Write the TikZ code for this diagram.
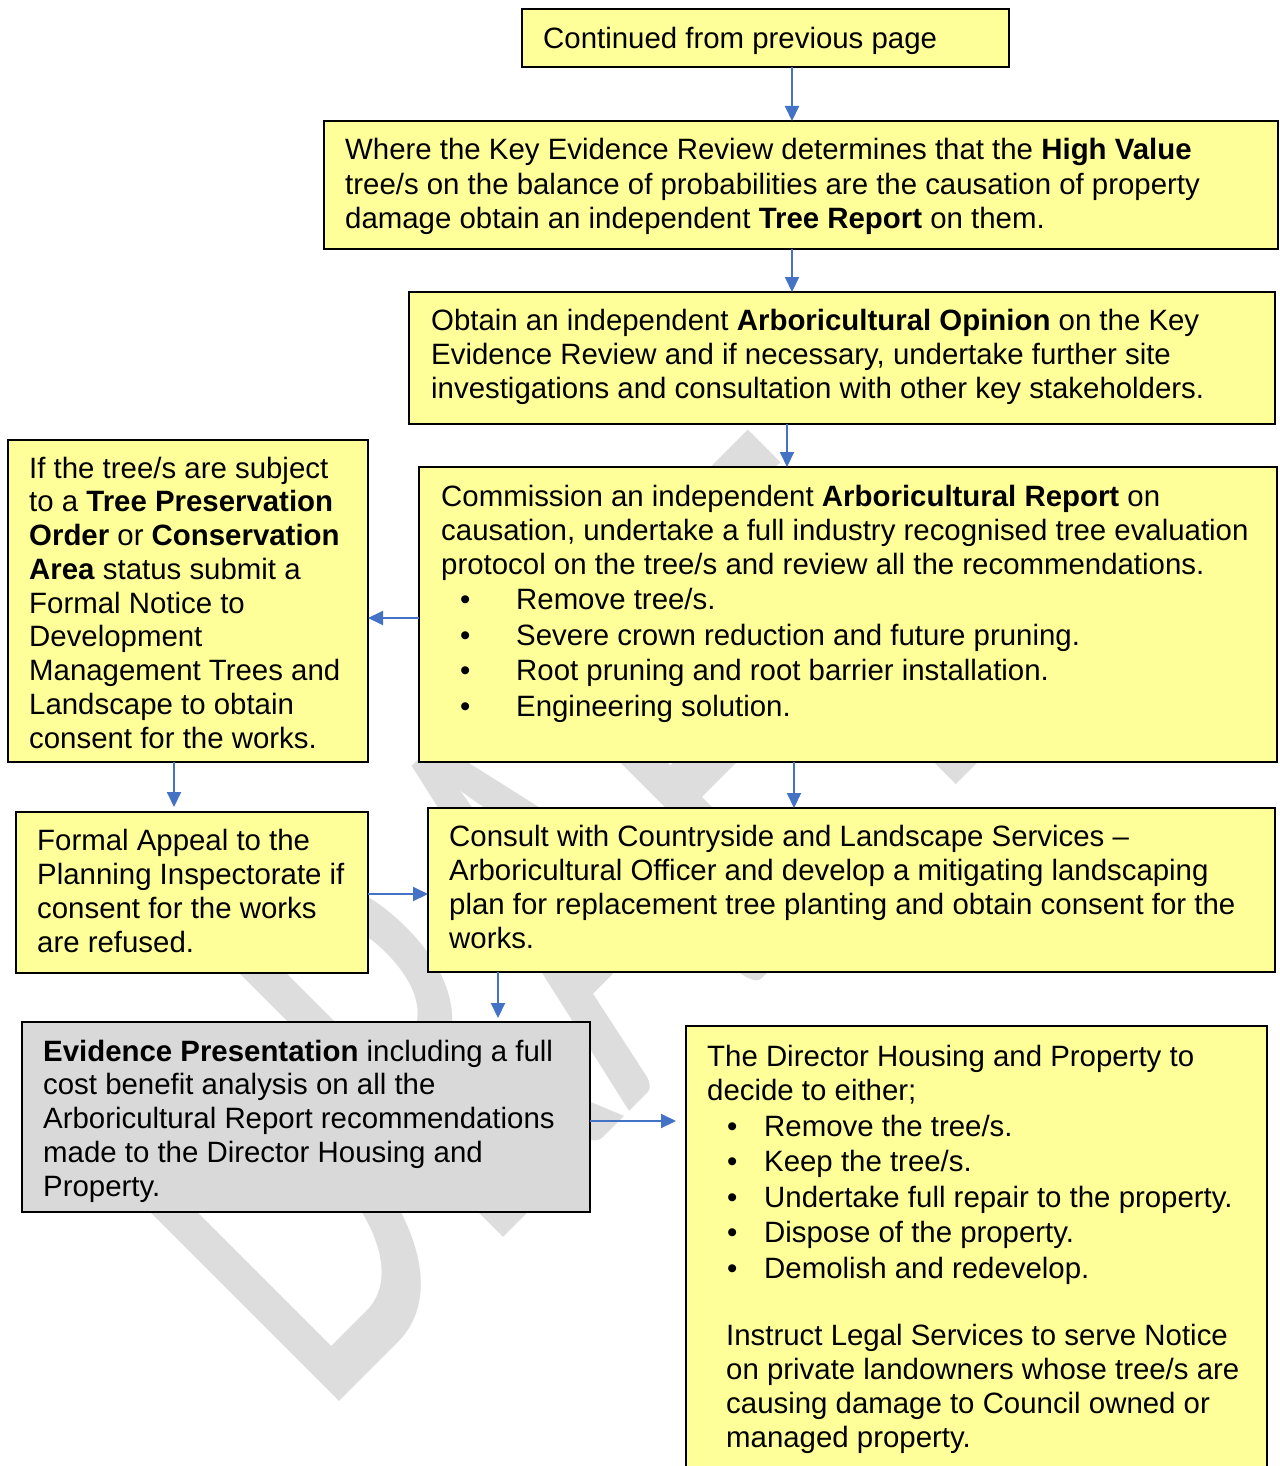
\documentclass[tikz,border=0pt]{standalone}
\usepackage{fontspec}
\usepackage{graphicx}
\setmainfont{Liberation Sans}
\newfontfamily\wmfont{Carlito}
\usetikzlibrary{arrows.meta}
\definecolor{boxyellow}{HTML}{FFFF99}
\definecolor{boxgray}{HTML}{D9D9D9}
\definecolor{arrowblue}{HTML}{4472C4}
\definecolor{wmgray}{HTML}{DDDDDD}
\newcommand\bulA{\hspace*{19pt}\makebox[56pt][l]{\textbullet}}
\newcommand\bulB{\hspace*{20pt}\makebox[37pt][l]{\textbullet}}
\newcommand\txtpar[1]{\parbox[t]{1200pt}{\raggedright #1}}
\begin{document}
\begin{tikzpicture}[x=1pt,y=-1pt,
  box/.style={draw=black, line width=2pt, fill=boxyellow, inner sep=0pt, outer sep=0pt, anchor=north west},
  graybox/.style={box, fill=boxgray},
  txt/.style={inner sep=0pt, anchor=base west, font=\fontsize{29.4}{34}\selectfont},
  arr/.style={draw=arrowblue, line width=2pt, -{Triangle[length=15pt,width=14pt]}},
  wm/.style={font=\wmfont\fontsize{620}{700}\selectfont, text=wmgray, rotate=45, anchor=base west, inner sep=0pt}
]
\useasboundingbox[fill=white] (0,0) rectangle (1279,1466);
% watermark
\node[wm] (wm) at (321,1420) {\scalebox{0.605}[1]{DRAFT}};
% boxes
\node[box, minimum width=487pt, minimum height=58pt] (b1) at (522,9) {};
\node[box, minimum width=954pt, minimum height=128pt] (b2) at (324,121) {};
\node[box, minimum width=866pt, minimum height=132pt] (b3) at (409,292) {};
\node[box, minimum width=858pt, minimum height=295pt] (b4) at (419,467) {};
\node[box, minimum width=360pt, minimum height=322pt] (b5) at (8,440) {};
\node[box, minimum width=352pt, minimum height=161pt] (b6) at (16,812) {};
\node[box, minimum width=847pt, minimum height=164pt] (b7) at (428,808) {};
\node[graybox, minimum width=568pt, minimum height=190pt] (b9) at (22,1022) {};
\node[box, minimum width=581pt, minimum height=470pt] (b8) at (686,1026) {};
% texts
\node[txt] (t1) at (543,49) {\txtpar{Continued from previous page}};
\node[txt] (t2) at (345,160) {\txtpar{\setlength\baselineskip{34.5pt}Where the Key Evidence Review determines that the \textbf{High Value}\\
tree/s on the balance of probabilities are the causation of property\\
damage obtain an independent \textbf{Tree Report} on them.}};
\node[txt] (t3) at (431,330) {\txtpar{Obtain an independent \textbf{Arboricultural Opinion} on the Key\\
Evidence Review and if necessary, undertake further site\\
investigations and consultation with other key stakeholders.}};
\node[txt] (t4) at (441,506) {\txtpar{Commission an independent \textbf{Arboricultural Report} on\\
causation, undertake a full industry recognised tree evaluation\\
protocol on the tree/s and review all the recommendations.\\[1.5pt]
\bulA Remove tree/s.\\[1.5pt]
\bulA Severe crown reduction and future pruning.\\[1.5pt]
\bulA Root pruning and root barrier installation.\\[1.5pt]
\bulA Engineering solution.}};
\node[txt] (t5) at (29,478) {\txtpar{\setlength\baselineskip{33.75pt}If the tree/s are subject\\
to a \textbf{Tree Preservation}\\
\textbf{Order} or \textbf{Conservation}\\
\textbf{Area} status submit a\\
Formal Notice to\\
Development\\
Management Trees and\\
Landscape to obtain\\
consent for the works.}};
\node[txt] (t6) at (37,850) {\txtpar{Formal Appeal to the\\
Planning Inspectorate if\\
consent for the works\\
are refused.}};
\node[txt] (t7) at (449,846) {\txtpar{Consult with Countryside and Landscape Services –\\
Arboricultural Officer and develop a mitigating landscaping\\
plan for replacement tree planting and obtain consent for the\\
works.}};
\node[txt] (t9) at (43,1061) {\txtpar{\setlength\baselineskip{33.75pt}\textbf{Evidence Presentation} including a full\\
cost benefit analysis on all the\\
Arboricultural Report recommendations\\
made to the Director Housing and\\
Property.}};
\node[txt] (t8) at (707,1066) {\txtpar{The Director Housing and Property to\\
decide to either;\\[2pt]
\bulB Remove the tree/s.\\[1.5pt]
\bulB Keep the tree/s.\\[1.5pt]
\bulB Undertake full repair to the property.\\[1.5pt]
\bulB Dispose of the property.\\[1.5pt]
\bulB Demolish and redevelop.\\[33pt]
\hspace*{19pt}Instruct Legal Services to serve Notice\\
\hspace*{19pt}on private landowners whose tree/s are\\
\hspace*{19pt}causing damage to Council owned or\\
\hspace*{19pt}managed property.}};
% connectors
\draw[arr] (792,0 |- b1.south) -- (792,0 |- b2.north);
\draw[arr] (792,0 |- b2.south) -- (792,0 |- b3.north);
\draw[arr] (787,0 |- b3.south) -- (787,0 |- b4.north);
\draw[arr] (0,618 -| b4.west) -- (0,618 -| b5.east);
\draw[arr, shorten >=5pt] (174,0 |- b5.south) -- (174,0 |- b6.north);
\draw[arr] (794,0 |- b4.south) -- (794,0 |- b7.north);
\draw[arr] (0,894 -| b6.east) -- (0,894 -| b7.west);
\draw[arr, shorten >=4pt] (498,0 |- b7.south) -- (498,0 |- b9.north);
\draw[arr, shorten >=10pt] (0,1121 -| b9.east) -- (0,1121 -| b8.west);
\end{tikzpicture}
\end{document}
